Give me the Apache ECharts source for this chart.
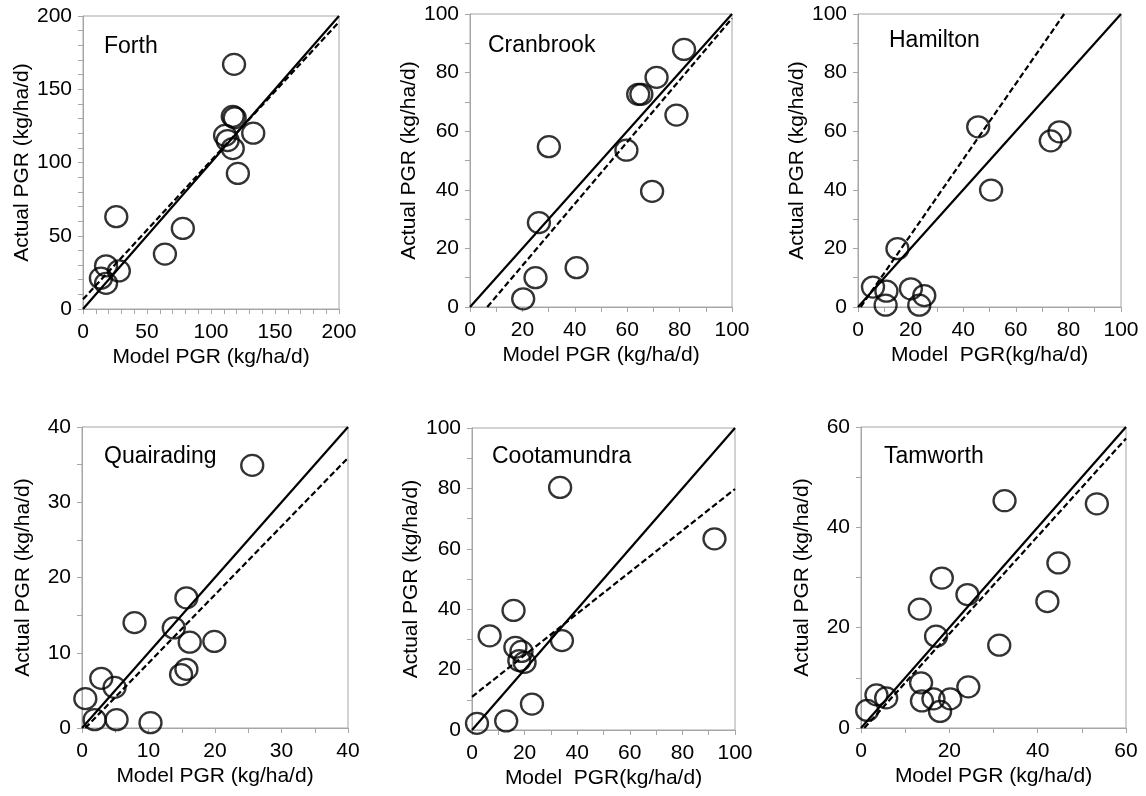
<!DOCTYPE html>
<html lang="en">
<head>
    <meta charset="UTF-8">
    <title>Model vs actual PGR</title>
    <style>
        html, body { margin: 0; padding: 0; background: #fff; }
        #container { width: 1146px; height: 796px; }
    </style>
</head>
<body>
    <div id="container"></div>
</body>
<script src="https://cdn.jsdelivr.net/npm/echarts@6/dist/echarts.min.js"></script>
<script>
    // site names
    var sites = ['Forth', 'Cranbrook', 'Hamilton', 'Quairading', 'Cootamundra', 'Tamworth'];

    // model PGR (x) and actual PGR (y)
    var forthX = [118, 117, 118.5, 133, 111, 113, 117, 121, 26, 78, 64, 18, 28, 14, 18];
    var forthY = [167, 131.5, 130.5, 120, 118.5, 115, 109.5, 92.5, 63, 55, 37.5, 29.5, 26, 21, 17.5];

    var cranbrookX = [81.7, 71.2, 64.2, 65.4, 78.8, 30.1, 59.7, 69.5, 26.3, 40.7, 25, 20.3];
    var cranbrookY = [87.9, 78.4, 72.6, 72.6, 65.5, 54.7, 53.5, 39.5, 28.8, 13.4, 10, 2.8];

    var hamiltonX = [45.7, 76.6, 73.3, 50.6, 15, 5.7, 10.8, 10.5, 20.1, 25.2, 23.3];
    var hamiltonY = [61.5, 59.8, 56.7, 39.9, 19.9, 6.8, 5.4, 0.6, 6.2, 3.9, 0.6];

    var quairadingX = [25.6, 15.7, 7.9, 13.8, 16.2, 19.9, 15.7, 14.9, 2.9, 4.9, 0.5, 1.9, 5.2, 10.3];
    var quairadingY = [34.9, 17.3, 14.0, 13.3, 11.4, 11.5, 7.8, 7.1, 6.6, 5.4, 3.9, 1.1, 1.1, 0.7];

    var cootamundraX = [33.5, 92.2, 15.8, 6.7, 34.2, 16.5, 18.8, 18, 20, 22.8, 1.9, 13];
    var cootamundraY = [80.3, 63.3, 39.6, 31.2, 29.6, 27.4, 26, 23, 22.4, 8.6, 2.2, 3];

    var tamworthX = [32.5, 53.4, 44.7, 18.3, 24.1, 13.3, 42.2, 17, 31.3, 13.6, 24.3, 13.8, 16.4, 20.2, 17.9, 3.5, 5.7, 1.4];
    var tamworthY = [45.3, 44.7, 32.9, 29.9, 26.6, 23.7, 25.2, 18.3, 16.5, 9.0, 8.2, 5.4, 5.8, 5.8, 3.3, 6.6, 6.0, 3.5];

    // axis ranges: max, tick step, label step
    var axisMax = [200, 100, 100, 40, 100, 60];
    var tickStep = [10, 10, 10, 5, 10, 10];
    var labelStep = [50, 20, 20, 10, 20, 20];

    // fitted (dashed) line end points [x0, y0, x1, y1]
    var fitLines = [
        [0, 6.6, 200, 195.9],
        [6.6, 0, 100, 98.5],
        [1, 0, 78.4, 100],
        [0.5, 0, 40, 35.9],
        [0, 11, 100, 79.8],
        [0.75, 0, 60, 57.7]
    ];

    var xNames = ['Model PGR (kg/ha/d)', 'Model PGR (kg/ha/d)', 'Model  PGR(kg/ha/d)',
        'Model PGR (kg/ha/d)', 'Model  PGR(kg/ha/d)', 'Model PGR (kg/ha/d)'];
    var yName = 'Actual PGR (kg/ha/d)';

    var allX = [forthX, cranbrookX, hamiltonX, quairadingX, cootamundraX, tamworthX];
    var allY = [forthY, cranbrookY, hamiltonY, quairadingY, cootamundraY, tamworthY];

    // layout of each panel
    var grids = [
        {left: 83, top: 16, width: 256, height: 293},
        {left: 470, top: 14, width: 262, height: 293},
        {left: 858, top: 14, width: 263, height: 293},
        {left: 82, top: 427, width: 266, height: 301},
        {left: 472, top: 428, width: 263, height: 302},
        {left: 861, top: 427, width: 265, height: 301}
    ];
    var titlePos = [[99, 43], [483, 42], [884, 37], [99, 453], [487, 453], [879, 453]];

    var font = '"Liberation Sans", Arial, sans-serif';
    var gray = '#a6a6a6';

    var chart = echarts.init(document.getElementById('container'));

    var option = {
        backgroundColor: '#ffffff',
        animation: false,
        title: [],
        grid: [],
        xAxis: [],
        yAxis: [],
        series: []
    };

    function makeAxis(i, isX) {
        var step = labelStep[i];
        return {
            type: 'value',
            gridIndex: i,
            min: 0,
            max: axisMax[i],
            interval: tickStep[i],
            name: isX ? xNames[i] : yName,
            nameLocation: 'middle',
            nameGap: isX ? 38 : 48,
            nameTextStyle: {fontFamily: font, fontSize: 21, color: '#000'},
            axisLine: {show: true, lineStyle: {color: gray, width: 1}},
            axisTick: {show: true, length: 5, lineStyle: {color: gray}},
            splitLine: {show: false},
            axisLabel: {
                fontFamily: font,
                fontSize: 21,
                color: '#000',
                margin: isX ? 13 : 11,
                formatter: function (v) {
                    return Math.abs(v % step) < 1e-9 ? String(v) : '';
                }
            }
        };
    }

    for (var i = 0; i < 6; i++) {
        var g = grids[i];
        option.grid.push({
            left: g.left, top: g.top, width: g.width, height: g.height,
            show: true, borderColor: gray, borderWidth: 1, backgroundColor: 'transparent'
        });
        option.xAxis.push(makeAxis(i, true));
        option.yAxis.push(makeAxis(i, false));

        option.title.push({
            text: sites[i],
            left: titlePos[i][0],
            top: titlePos[i][1] - 13,
            textStyle: {fontFamily: font, fontSize: 23, fontWeight: 'normal', color: '#000'}
        });

        var pts = [];
        for (var k = 0; k < allX[i].length; k++) {
            pts.push([allX[i][k], allY[i][k]]);
        }
        var m = axisMax[i];
        var f = fitLines[i];

        // 1:1 line
        option.series.push({
            type: 'line',
            xAxisIndex: i, yAxisIndex: i,
            data: [[0, 0], [m, m]],
            symbol: 'none',
            lineStyle: {color: '#000', width: 2.2},
            silent: true
        });
        // fitted line
        option.series.push({
            type: 'line',
            xAxisIndex: i, yAxisIndex: i,
            data: [[f[0], f[1]], [f[2], f[3]]],
            symbol: 'none',
            lineStyle: {color: '#000', width: 2.2, type: [6, 3]},
            silent: true
        });
        option.series.push({
            type: 'scatter',
            xAxisIndex: i, yAxisIndex: i,
            data: pts,
            symbol: 'circle',
            symbolSize: [22, 21],
            itemStyle: {color: 'rgba(255,255,255,0)', borderColor: '#000', borderWidth: 2.3},
            clip: false
        });
    }

    chart.setOption(option);
</script>
</html>
